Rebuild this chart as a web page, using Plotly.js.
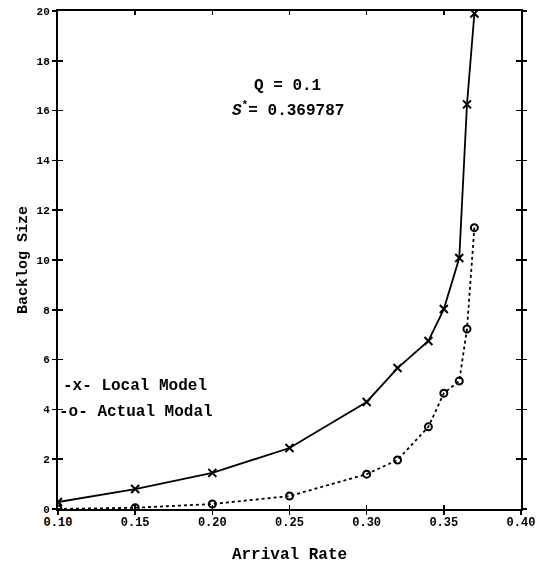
<!DOCTYPE html>
<html>
<head>
<meta charset="utf-8">
<script src="https://cdn.plot.ly/plotly-3.0.1.min.js"></script>
<style>html,body{margin:0;padding:0;background:#fff;}</style>
</head>
<body>
<div id="chart" style="width:542px;height:564px;"></div>
<script>
// Data
const arrivalRate = [0.10, 0.15, 0.20, 0.25, 0.30, 0.32, 0.34, 0.35, 0.36, 0.365, 0.3698];
const localModel  = [0.28, 0.80, 1.45, 2.45, 4.30, 5.66, 6.75, 8.03, 10.08, 16.25, 19.9];
const actualModel = [0.00, 0.05, 0.20, 0.52, 1.40, 1.97, 3.30, 4.65, 5.14, 7.23, 11.3];
const xTicks = [0.10, 0.15, 0.20, 0.25, 0.30, 0.35, 0.40];
const yTicks = [0, 2, 4, 6, 8, 10, 12, 14, 16, 18, 20];
const legendLabels = ["-x- Local Model", "-o- Actual Modal"];
const noteQ = "Q = 0.1";
const noteS = "<i>S</i><sup>*</sup>= 0.369787";

const FONT = "Liberation Mono, Courier New, monospace";

const traces = [
  {
    x: arrivalRate, y: localModel, type: "scatter", mode: "lines+markers",
    line: {color: "#000", width: 1.8},
    marker: {symbol: "x-thin-open", size: 8, color: "#000", line: {color: "#000", width: 2}},
    showlegend: false, hoverinfo: "skip"
  },
  {
    x: arrivalRate, y: actualModel, type: "scatter", mode: "lines+markers",
    line: {color: "#000", width: 1.8, dash: "dot"},
    marker: {symbol: "circle-open", size: 7, color: "#000", line: {color: "#000", width: 2}},
    showlegend: false, hoverinfo: "skip"
  },
  {
    x: arrivalRate, y: localModel, type: "scatter", mode: "markers",
    xaxis: "x2", yaxis: "y2", opacity: 0, showlegend: false, hoverinfo: "skip"
  }
];

const axisCommon = {
  showgrid: false, zeroline: false, showline: true, linecolor: "#000", linewidth: 2,
  tickcolor: "#000", tickwidth: 1.5, ticklen: 5
};

const layout = {
  width: 542, height: 564,
  margin: {l: 58, r: 21, t: 11, b: 55},
  paper_bgcolor: "#fff", plot_bgcolor: "#fff",
  font: {family: FONT, color: "#000"},
  showlegend: false,
  xaxis: Object.assign({}, axisCommon, {
    range: [0.10, 0.40], tickvals: xTicks, ticktext: xTicks.map(v => "<b>" + v.toFixed(2) + "</b>"),
    ticks: "outside", mirror: true, ticklen: 4, ticklabelstandoff: -3,
    tickfont: {family: FONT, size: 12},
    title: {text: "<b>Arrival Rate</b>", font: {family: FONT, size: 16}, standoff: 20}
  }),
  yaxis: Object.assign({}, axisCommon, {
    range: [0, 20], tickvals: yTicks, ticktext: yTicks.map(v => "<b>" + v + "</b>"),
    ticks: "outside", mirror: "ticks", ticklen: 4,
    tickfont: {family: FONT, size: 11},
    title: {text: "<b>Backlog Size</b>", font: {family: FONT, size: 15}, standoff: 5}
  }),
  xaxis2: Object.assign({}, axisCommon, {
    range: [0.10, 0.40], tickvals: xTicks, showticklabels: false,
    ticks: "inside", mirror: "ticks", overlaying: "x", anchor: "y2", ticklen: 4
  }),
  yaxis2: Object.assign({}, axisCommon, {
    range: [0, 20], tickvals: yTicks, showticklabels: false,
    ticks: "inside", mirror: "ticks", overlaying: "y", anchor: "x2", ticklen: 5
  }),
  annotations: [
    {x: 0.249, y: 17.0, xref: "x", yref: "y", text: "<b>" + noteQ + "</b>", showarrow: false,
     xanchor: "center", yanchor: "middle", font: {family: FONT, size: 16}},
    {x: 0.249, y: 16.05, xref: "x", yref: "y", text: "<b>" + noteS + "</b>", showarrow: false,
     xanchor: "center", yanchor: "middle", font: {family: FONT, size: 16}},
    {x: 0.006, y: 4.95 / 20, xref: "paper", yref: "paper", text: "<b>" + legendLabels[0] + "</b>", showarrow: false,
     xanchor: "left", yanchor: "middle", font: {family: FONT, size: 16}},
    {x: -0.003, y: 3.9 / 20, xref: "paper", yref: "paper", text: "<b>" + legendLabels[1] + "</b>", showarrow: false,
     xanchor: "left", yanchor: "middle", font: {family: FONT, size: 16}}
  ]
};

Plotly.newPlot("chart", traces, layout, {staticPlot: true, displayModeBar: false});
</script>
</body>
</html>
